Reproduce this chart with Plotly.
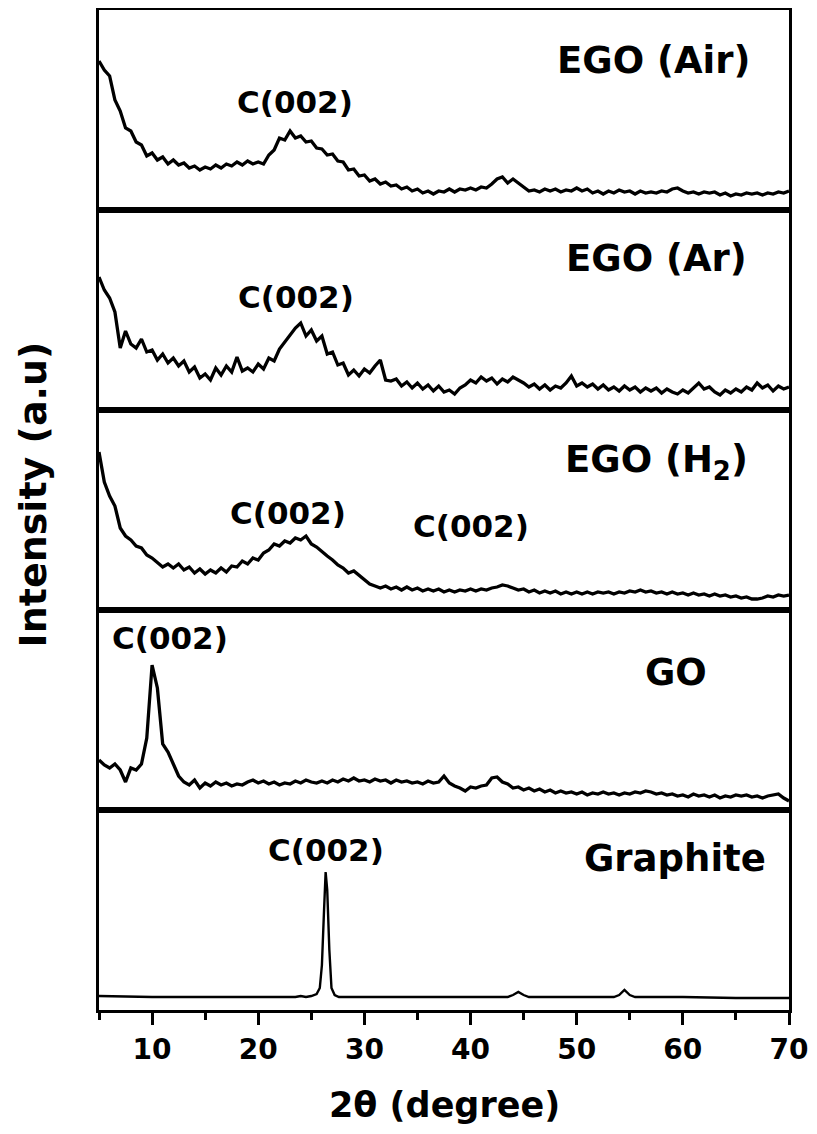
import numpy as np
import plotly.graph_objects as go
from plotly.subplots import make_subplots

# ---------------- data (intensities in a.u.) ----------------
step_start, step_end = 5.0, 70.0

ego_air = [149, 140, 134, 110, 99, 82, 79, 68, 65, 54, 57, 50, 53, 46, 50, 45, 47, 42, 44, 40,
           43, 41, 45, 42, 46, 44, 48, 45, 49, 46, 48, 46, 55, 60, 72, 70, 79, 72, 74, 68,
           69, 62, 61, 55, 56, 49, 48, 40, 41, 34, 35, 29, 31, 26, 28, 24, 25, 21, 23, 19,
           21, 17, 19, 16, 19, 18, 21, 18, 21, 20, 22, 20, 23, 22, 26, 31, 33, 27, 31, 27,
           24, 19, 20, 18, 21, 19, 21, 18, 20, 19, 22, 19, 21, 17, 19, 16, 19, 17, 20, 18,
           19, 16, 19, 17, 18, 17, 19, 18, 21, 22, 19, 17, 18, 16, 18, 17, 18, 15, 17, 14,
           16, 15, 17, 16, 17, 15, 17, 16, 18, 17, 19]

ego_ar = [133, 120, 112, 98, 62, 79, 66, 62, 71, 58, 60, 50, 56, 47, 52, 44, 49, 38, 43, 32,
          36, 30, 42, 35, 44, 38, 53, 39, 42, 38, 46, 41, 52, 49, 61, 68, 75, 82, 87, 74,
          80, 69, 74, 56, 58, 45, 47, 35, 40, 34, 41, 37, 44, 50, 30, 29, 31, 24, 28, 22,
          27, 21, 25, 19, 24, 18, 20, 16, 22, 25, 30, 27, 33, 29, 32, 26, 31, 28, 33, 30,
          27, 23, 26, 21, 25, 20, 24, 22, 27, 34, 24, 27, 23, 26, 21, 25, 20, 23, 19, 24,
          20, 23, 18, 22, 19, 22, 17, 21, 18, 16, 20, 17, 22, 27, 21, 23, 18, 15, 20, 17,
          21, 18, 23, 20, 27, 22, 25, 19, 24, 21, 23]

ego_h2 = [158, 128, 114, 104, 82, 74, 70, 64, 62, 55, 52, 47, 43, 46, 42, 46, 40, 43, 37, 41,
          36, 40, 37, 42, 38, 44, 43, 49, 46, 52, 50, 57, 60, 66, 64, 69, 67, 72, 70, 74,
          66, 63, 58, 54, 50, 45, 42, 37, 39, 35, 30, 26, 24, 22, 24, 21, 23, 20, 23, 20,
          22, 19, 21, 19, 21, 18, 20, 18, 20, 19, 21, 19, 21, 20, 22, 23, 25, 24, 22, 20,
          21, 18, 20, 17, 19, 17, 19, 16, 18, 16, 18, 16, 18, 16, 18, 17, 18, 16, 18, 17,
          19, 18, 20, 18, 19, 17, 18, 16, 18, 16, 17, 15, 17, 15, 16, 14, 16, 14, 15, 13,
          14, 12, 13, 11, 11, 12, 14, 13, 15, 14, 15]

go_int = [50, 45, 42, 46, 40, 28, 42, 40, 46, 72, 145, 122, 66, 58, 46, 34, 28, 25, 30, 22,
          27, 24, 28, 25, 27, 24, 26, 25, 28, 30, 27, 29, 26, 28, 25, 27, 26, 29, 27, 30,
          28, 27, 29, 27, 30, 28, 31, 29, 32, 29, 30, 28, 31, 29, 30, 27, 30, 28, 29, 27,
          28, 26, 29, 27, 28, 34, 27, 24, 22, 19, 23, 22, 24, 25, 32, 33, 28, 26, 22, 23,
          20, 22, 19, 21, 18, 20, 17, 19, 17, 18, 16, 18, 15, 17, 16, 18, 16, 17, 15, 17,
          16, 18, 17, 19, 18, 16, 17, 15, 16, 14, 15, 13, 16, 14, 15, 13, 15, 12, 14, 13,
          15, 14, 15, 13, 14, 12, 14, 15, 16, 12, 9]

graphite_x = [5, 10, 15, 20, 23.5, 24, 24.5, 25, 25.5, 25.8, 26.0, 26.2, 26.35, 26.5, 26.7,
              26.9, 27.2, 27.6, 28, 30, 35, 40, 43.5, 44.0, 44.5, 45.0, 45.5, 50, 53.5, 54.0,
              54.5, 55.0, 55.5, 60, 65, 70]
graphite_y = [14, 13, 13, 13, 13, 14, 13, 14, 16, 22, 45, 100, 138, 120, 60,
              22, 15, 13, 13, 13, 13, 13, 13, 15, 18, 15, 13, 13, 13, 15,
              20, 15, 13, 13, 12, 12]

panel_names = ["EGO (Air)", "EGO (Ar)", "EGO (H<sub>2</sub>)", "GO", "Graphite"]
tick_vals = [10, 20, 30, 40, 50, 60, 70]
tick_text = ["10", "20", "30", "40", "50", "60", "70"]

# peak label positions (degree, intensity) per panel
peak_labels = [
    [(23.5, 108)],
    [(23.6, 113)],
    [(22.8, 97), (40.0, 84)],
    [(11.7, 172)],
    [(26.4, 160)],
]
name_pos = [(57.2, 150), (57.5, 151), (57.5, 148), (59.4, 138), (59.3, 152)]

# ---------------- figure ----------------
FONT = "DejaVu Sans"
fig = make_subplots(rows=5, cols=1, shared_xaxes=True, vertical_spacing=0)

series = [ego_air, ego_ar, ego_h2, go_int]
for i, ys in enumerate(series):
    xs = np.linspace(step_start, step_end, len(ys))
    fig.add_trace(go.Scatter(x=xs, y=ys, mode="lines",
                             line=dict(color="black", width=3.3), showlegend=False),
                  row=i + 1, col=1)
fig.add_trace(go.Scatter(x=graphite_x, y=graphite_y, mode="lines",
                         line=dict(color="black", width=2.4), showlegend=False),
              row=5, col=1)

for r in range(1, 6):
    fig.update_yaxes(range=[0, 200], showline=True, mirror=True, linewidth=3,
                     linecolor="black", showticklabels=False, ticks="",
                     showgrid=False, zeroline=False, automargin=False, row=r, col=1)
    fig.update_xaxes(range=[5, 70], showline=True, mirror=True, linewidth=3,
                     linecolor="black", showgrid=False, zeroline=False,
                     automargin=False, row=r, col=1)
    if r < 5:
        fig.update_xaxes(ticks="", showticklabels=False, row=r, col=1)

fig.update_xaxes(ticks="outside", ticklen=12, tickwidth=3, tickcolor="black",
                 tickvals=tick_vals, ticktext=tick_text, showticklabels=True,
                 ticklabeloverflow="allow",
                 tickfont=dict(family=FONT, size=28, color="black", weight="bold"),
                 minor=dict(ticks="outside", ticklen=7, tickwidth=2.5,
                            tickcolor="black", tickvals=[5, 15, 25, 35, 45, 55, 65]),
                 row=5, col=1)

axis_names = ["", "2", "3", "4", "5"]
for i in range(5):
    xr = "x" + axis_names[i]
    yr = "y" + axis_names[i]
    nx, ny = name_pos[i]
    fig.add_annotation(x=nx, y=ny, xref=xr, yref=yr, text=panel_names[i],
                       showarrow=False, xanchor="center", yanchor="middle",
                       font=dict(family=FONT, size=37, color="black", weight="bold"))
    for (px, py) in peak_labels[i]:
        fig.add_annotation(x=px, y=py, xref=xr, yref=yr, text="C(002)",
                           showarrow=False, xanchor="center", yanchor="middle",
                           font=dict(family=FONT, size=31, color="black", weight="bold"))

fig.add_annotation(x=0.5, y=-0.095, xref="paper", yref="paper", text="2θ (degree)",
                   showarrow=False, xanchor="center", yanchor="middle",
                   font=dict(family=FONT, size=35, color="black", weight="bold"))
fig.add_annotation(x=-0.095, y=0.516, xref="paper", yref="paper", text="Intensity (a.u)",
                   textangle=-90, showarrow=False, xanchor="center", yanchor="middle",
                   font=dict(family=FONT, size=38, color="black", weight="bold"))

# page body adds an 8px margin on every side, so the figure is sized to fit the window
fig.update_layout(width=801, height=1118,
                  margin=dict(l=91, r=20, t=2, b=116),
                  plot_bgcolor="white", paper_bgcolor="white")

fig.write_html("out.html")
